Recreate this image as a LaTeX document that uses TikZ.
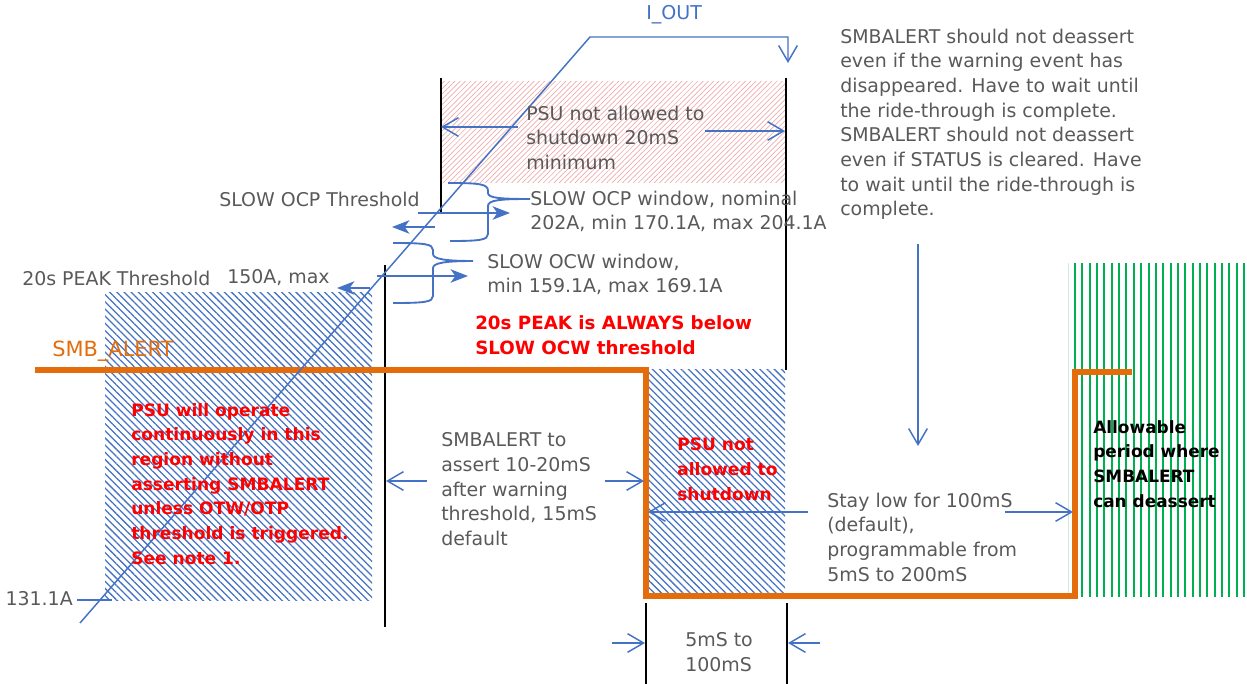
\documentclass[tikz,border=0pt]{standalone}
\usepackage{fontspec}
\setmainfont{DejaVu Sans}
\usetikzlibrary{arrows.meta,patterns.meta}
\definecolor{ublue}{RGB}{68,114,196}
\definecolor{tgray}{RGB}{89,89,89}
\definecolor{uorange}{RGB}{228,108,10}
\definecolor{ugreen}{RGB}{0,176,80}
\definecolor{hred}{RGB}{238,170,170}
\begin{document}
\begin{tikzpicture}[x=0.75pt,y=-0.75pt,
  gtxt/.style={text=tgray,font=\fontsize{14.2}{18.5}\selectfont,align=left,inner sep=0pt,anchor=north west},
  rtxt/.style={text=red,font=\bfseries\fontsize{12.8}{18.5}\selectfont,align=left,inner sep=0pt,anchor=north west},
  ktxt/.style={text=black,font=\bfseries\fontsize{12.7}{18.5}\selectfont,align=left,inner sep=0pt,anchor=north west},
  barb/.style={ublue,line width=1.1pt,-{Straight Barb[length=12pt,width=14pt]}},
  stl/.style={ublue,line width=1.6pt,-{Stealth[length=13pt,width=10pt,inset=3.5pt]}},
  bline/.style={ublue,line width=1.1pt},
  vmark/.style={black,line width=1.5pt},
  bracestyle/.style={ublue,line width=1.4pt},
  sig/.style={uorange,line width=4.2pt,line join=miter},
  hatchred/.style={pattern={Lines[angle=45,distance=2.8pt,line width=0.5pt]},pattern color=hred},
  hatchblue/.style={pattern={Lines[angle=-45,distance=3.8pt,line width=0.95pt]},pattern color=ublue},
]
\useasboundingbox (0,0) rectangle (1247,684);

% hatched regions
\path[hatchred] (441,82) rectangle (785,183);
\path[hatchblue] (105,293) rectangle (372,600);
\path[hatchblue] (648,370) rectangle (785,595);
\draw[ugreen!20!white,line width=0.5pt] (1068,263) -- (1068,597);
\foreach \i in {0,...,23} \draw[ugreen,line width=1.5pt] ({1075+7.35*\i},263) -- ({1075+7.35*\i},597);

% black time markers
\draw[vmark] (441,78) -- (441,213);
\draw[vmark] (786,78) -- (786,370);
\draw[vmark] (385,265) -- (385,627);
\draw[vmark] (646,603) -- (646,684);
\draw[vmark] (787,603) -- (787,684);

% SMB_ALERT signal
\draw[sig] (35,370) -- (646,370) -- (646,596) -- (1075,596) -- (1075,372) -- (1132,372);

% I_OUT curve
\coordinate (io0) at (80,623);
\coordinate (io1) at (590,37);
\coordinate (io2) at (788,37);
\coordinate (io3) at (788,63);
\draw[barb] (io0) -- (io1) -- (io2) -- (io3);
\node[text=ublue,font=\fontsize{14.3}{16}\selectfont,anchor=base west,inner sep=0pt] (iout) at (646,20) {I\_OUT};

% braces
\draw[bracestyle] (448,183) .. controls (480,183) and (488,184) .. (488,191) -- (488,193)
  .. controls (488,198) and (500,199) .. (530,199)
  .. controls (500,199) and (488,200) .. (488,206) -- (488,234)
  .. controls (488,240) and (480,241) .. (450,241);
\draw[bracestyle] (393,243) .. controls (425,243) and (433,244) .. (433,250) -- (433,254)
  .. controls (433,259) and (445,261) .. (473,261)
  .. controls (445,261) and (433,263) .. (433,268) -- (433,296)
  .. controls (433,302) and (425,303) .. (393,303);

% texts
\node[gtxt] (psu20) at (526,105.5) {PSU not allowed to\\shutdown 20mS\\minimum};
\node[gtxt,anchor=base east] (ocpthr) at (420,207) {SLOW OCP Threshold};
\node[gtxt] (ocpwin) at (530,190.5) {SLOW OCP window, nominal\\202A, min 170.1A, max 204.1A};
\node[gtxt] (ocwwin) at (487,253.5) {SLOW OCW window,\\min 159.1A, max 169.1A};
\node[gtxt,anchor=base west] (peakthr) at (22,286) {20s PEAK Threshold};
\node[gtxt,anchor=base west] (max150) at (227,284) {150A, max};
\node[text=uorange,font=\fontsize{15.7}{18}\selectfont,anchor=base west,inner sep=0pt] (smbl) at (52,357) {SMB\_ALERT};
\node[rtxt,font=\bfseries\fontsize{13.7}{19.3}\selectfont] (peaknote) at (475,315) {20s PEAK is ALWAYS below\\SLOW OCW threshold};
\node[rtxt] (operate) at (131,403) {PSU will operate\\continuously in this\\region without\\asserting SMBALERT\\unless OTW/OTP\\threshold is triggered.\\See note 1.};
\node[gtxt] (assert) at (441,432.5) {SMBALERT to\\assert 10-20mS\\after warning\\threshold, 15mS\\default};
\node[rtxt] (notshut) at (677,438) {PSU not\\allowed to\\shutdown};
\node[gtxt] (staylow) at (827,492.5) {Stay low for 100mS\\(default),\\programmable from\\5mS to 200mS};
\node[gtxt] (range5) at (685,632.5) {5mS to\\100mS};
\node[ktxt] (allow) at (1093,420) {Allowable\\period where\\SMBALERT\\can deassert};
\node[gtxt] (note) at (840,28.5) {SMBALERT should not deassert\\even if the warning event has\\disappeared. Have to wait until\\the ride-through is complete.\\SMBALERT should not deassert\\even if STATUS is cleared. Have\\to wait until the ride-through is\\complete.};
\node[gtxt,anchor=base east] (lbl131) at (73,605) {131.1A};

% arrows
\coordinate (a1s) at (518,127); \coordinate (a1e) at (441,127);
\coordinate (a2s) at (705,131); \coordinate (a2e) at (785,131);
\draw[barb] (a1s) -- (a1e);
\draw[barb] (a2s) -- (a2e);

\coordinate (t1s) at (418,213); \coordinate (t1e) at (510,213);
\coordinate (t2s) at (435,227); \coordinate (t2e) at (392,227);
\coordinate (t3s) at (377,276); \coordinate (t3e) at (468,276);
\coordinate (t4s) at (370,288); \coordinate (t4e) at (337,288);
\draw[stl] (t1s) -- (t1e);
\draw[stl] (t2s) -- (t2e);
\draw[stl] (t3s) -- (t3e);
\draw[stl] (t4s) -- (t4e);

\coordinate (m131a) at (77,600); \coordinate (m131b) at (112,600);
\draw[bline] (m131a) -- (m131b);

\coordinate (b1s) at (427,481); \coordinate (b1e) at (386,481);
\coordinate (b2s) at (605,481); \coordinate (b2e) at (644,481);
\draw[barb] (b1s) -- (b1e);
\draw[barb] (b2s) -- (b2e);

\coordinate (c1s) at (808,512); \coordinate (c1e) at (648,512);
\coordinate (c2s) at (1005,512); \coordinate (c2e) at (1073,512);
\draw[barb] (c1s) -- (c1e);
\draw[barb] (c2s) -- (c2e);

\coordinate (ds) at (918,244); \coordinate (de) at (918,446);
\draw[barb] (ds) -- (de);

\coordinate (e1s) at (612,643); \coordinate (e1e) at (645,643);
\coordinate (e2s) at (820,643); \coordinate (e2e) at (788,643);
\draw[barb] (e1s) -- (e1e);
\draw[barb] (e2s) -- (e2e);
\end{tikzpicture}
\end{document}
